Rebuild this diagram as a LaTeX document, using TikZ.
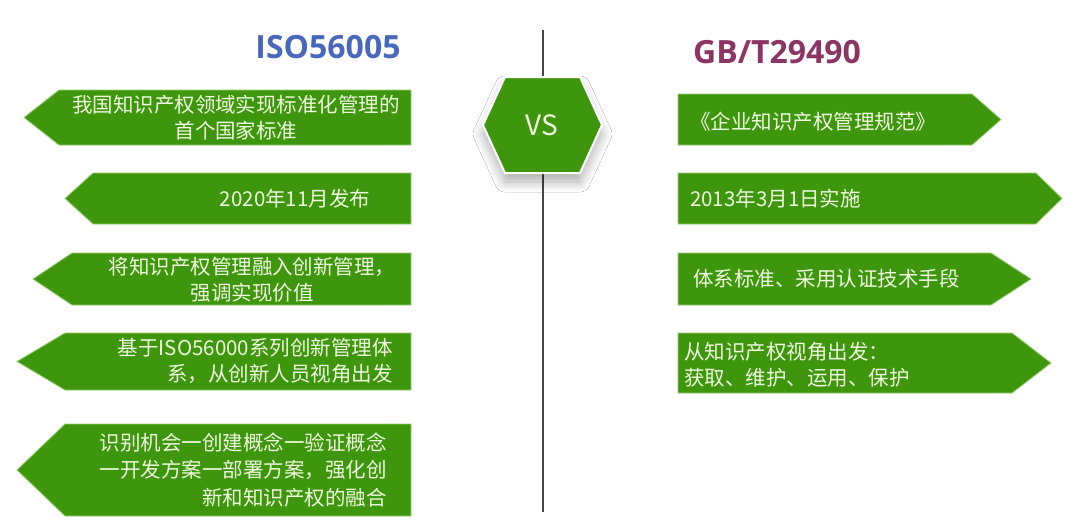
\documentclass[tikz,border=0pt]{standalone}
\usepackage{fontspec}
\setmainfont{Noto Sans CJK SC}
\newfontfamily\titlefont{Open Sans}
\usetikzlibrary{shadows.blur}
\definecolor{gfill}{RGB}{61,150,12}
\definecolor{gedge}{RGB}{150,205,110}
\definecolor{gtext}{RGB}{240,250,225}
\definecolor{isoblue}{RGB}{72,104,190}
\definecolor{gbred}{RGB}{140,52,100}
\definecolor{vline}{RGB}{70,70,70}
\newcommand{\LeftArrowShape}[5]{% tip x, body x, top, bottom, right x
  \filldraw[arrowbody] (#5,#3) -- (#2,#3) -- (#1,{(#3+#4)/2}) -- (#2,#4) -- (#5,#4) -- cycle;}
\newcommand{\RightArrowShape}[5]{% left x, body end x, tip x, top, bottom
  \filldraw[arrowbody] (#1,#4) -- (#2,#4) -- (#3,{(#4+#5)/2}) -- (#2,#5) -- (#1,#5) -- cycle;}
\begin{document}
\begin{tikzpicture}[x=1pt,y=-1pt,
  arrowbody/.style={fill=gfill, draw=gedge, line width=0.8pt},
  lbl/.style={text=gtext, font=\fontsize{20.5}{26}\selectfont, inner sep=0pt},
  title/.style={font=\titlefont\bfseries\fontsize{32}{36}\selectfont, inner sep=0pt}]
\useasboundingbox[fill=white] (0,0) rectangle (1080,530);

% centre line
\coordinate (ltop) at (543,30);
\coordinate (lbot) at (543,512);
\draw[vline, line width=1.5pt] (ltop) -- (lbot);

% titles
\node[title, text=isoblue] (iso) at (328,47) {ISO56005};
\node[title, text=gbred] (gb) at (777,52) {GB/T29490};

% hexagon
\filldraw[fill=gfill, draw=white, line width=2pt,
  blur shadow={shadow xshift=0pt, shadow yshift=-9pt, shadow blur radius=10pt, shadow blur steps=12, shadow opacity=32}]
  (483,125) -- (505,77) -- (580,77) -- (602,125) -- (580,173) -- (505,173) -- cycle;
\node[text=gtext, font=\fontsize{28}{30}\selectfont, inner sep=0pt] (vs) at (542,125) {VS};

% left arrows
\LeftArrowShape{24}{59}{90}{145}{411}
\LeftArrowShape{65}{93}{173}{224}{411}
\LeftArrowShape{33}{72}{253}{305}{411}
\LeftArrowShape{17}{65}{333}{390}{411}
\LeftArrowShape{17}{65}{424}{516}{411}

\node[lbl, align=center] (l1) at (236,118) {我国知识产权领域实现标准化管理的\\首个国家标准};
\node[lbl] (l2) at (295,199) {2020年11月发布};
\node[lbl, align=center] (l3) at (252,280) {将知识产权管理融入创新管理，\\强调实现价值};
\node[lbl, align=right, anchor=east] (l4) at (393,361) {基于ISO56000系列创新管理体\\系，从创新人员视角出发};
\node[lbl, align=right, anchor=east, font=\fontsize{20.5}{27.5}\selectfont] (l5) at (387,470) {识别机会一创建概念一验证概念\\一开发方案一部署方案，强化创\\新和知识产权的融合};

% right arrows
\RightArrowShape{678}{972}{1001}{94}{145}
\RightArrowShape{678}{1036}{1062}{173}{224}
\RightArrowShape{678}{991}{1031}{253}{305}
\RightArrowShape{678}{1012}{1051}{333}{393}

\node[lbl, anchor=west] (r1) at (690,122) {《企业知识产权管理规范》};
\node[lbl, anchor=west] (r2) at (690,199) {2013年3月1日实施};
\node[lbl, anchor=west] (r3) at (693,279) {体系标准、采用认证技术手段};
\node[lbl, align=left, anchor=west] (r4) at (684,365) {从知识产权视角出发：\\获取、维护、运用、保护};
\end{tikzpicture}
\end{document}
